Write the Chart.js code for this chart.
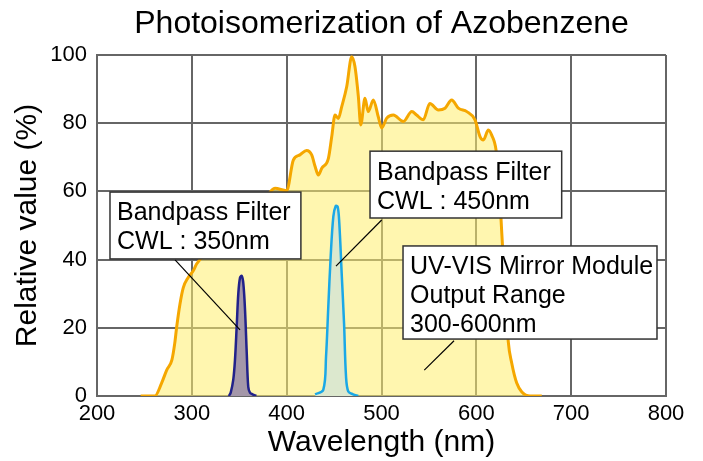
<!DOCTYPE html>
<html>
<head>
<meta charset="utf-8">
<script src="https://cdn.jsdelivr.net/npm/chart.js@4.4.1/dist/chart.umd.min.js"></script>
<style>
  html, body { margin: 0; padding: 0; background: #ffffff; }
  #wrap { width: 703px; height: 461px; position: relative; }
</style>
</head>
<body>
<div id="wrap"><canvas id="c" width="703" height="461"></canvas></div>
<script>
// ---- Data ----
const titleText = 'Photoisomerization of Azobenzene';
const xAxisTitle = 'Wavelength (nm)';
const yAxisTitle = 'Relative value (%)';
const xTicks = [200, 300, 400, 500, 600, 700, 800];
const yTicks = [0, 20, 40, 60, 80, 100];

// UV-VIS mirror module output spectrum
const mirrorNm  = [246, 261, 268, 273.5, 279, 282, 284, 287.5, 291, 296, 301.5, 305, 320, 340, 360, 375, 387.7, 400, 407, 414, 421, 426.4, 430, 433.4, 437, 444, 447.5, 451, 454.5, 458, 463.3, 468.6, 472, 475.6, 478.1, 482.6, 486, 491.4, 496.6, 500.2, 505.5, 512.5, 523, 532, 537, 544, 551, 560, 567, 574, 581, 590, 598.6, 604, 607.4, 612.7, 616.2, 620.8, 624, 627, 633.7, 637.3, 642.6, 648, 656.6, 669];
const mirrorVal = [0, 0, 3.7, 7.6, 10.6, 15.5, 20.2, 27, 31.8, 34.7, 36.7, 38.7, 43, 48, 53, 57, 60.9, 60.2, 69.2, 70.7, 72, 70.7, 67.3, 64.8, 66.8, 69.7, 76, 82.4, 81.4, 84.8, 90.7, 99.5, 96.6, 87.8, 79.5, 87.3, 83.4, 86.8, 81.9, 78.6, 81.5, 82.4, 80.5, 83.4, 82.4, 81, 85.8, 83.9, 84.4, 86.8, 84.4, 83.4, 81, 76, 75.1, 78, 76.5, 72.1, 62, 47, 15.9, 9.7, 3.8, 1.2, 0, 0];

// Bandpass filter, CWL 350 nm
const f350Nm  = [339, 341, 343.7, 345.5, 347.3, 349, 350.8, 352.6, 354.3, 356.1, 357.9, 359.5, 361.3, 364, 368];
const f350Val = [0, 1, 4.8, 10.6, 20.4, 30, 34.7, 35.2, 33, 25.2, 12.6, 2.7, 1, 0.5, 0];

// Bandpass filter, CWL 450 nm
const f450Nm  = [430, 438.6, 441.5, 443.9, 446.4, 449.2, 451.7, 453.8, 455.5, 458, 460.5, 462.6, 465, 470, 475.5];
const f450Val = [0.5, 1.8, 11.5, 26.2, 40.9, 52.6, 55.7, 55.5, 50.7, 36, 21.4, 5.7, 1.3, 0.5, 0];

// Callout labels (text) and their anchor points in data units
const callouts = [
  { lines: ['Bandpass Filter', 'CWL : 350nm'], box: [213.7, 415, 59.8, 40.2], from: [282.3, 39.9], to: [350.8, 19.4] },
  { lines: ['Bandpass Filter', 'CWL : 450nm'], box: [487.9, 690, 71.8, 52.2], from: [500.2, 51.6], to: [452, 38.1] },
  { lines: ['UV-VIS Mirror Module', 'Output Range', '300-600nm'], box: [522.7, 790.5, 44, 16.7], from: [576.5, 16.2], to: [545.1, 7.6] }
];

const toXY = (xs, ys) => xs.map((x, i) => ({ x: x, y: ys[i] }));

const FONT = '"Liberation Sans", Arial, Helvetica, sans-serif';
const GRID = '#666666';

const calloutPlugin = {
  id: 'callouts',
  afterDatasetsDraw(chart) {
    const ctx = chart.ctx;
    const xs = chart.scales.x, ys = chart.scales.y;
    ctx.save();
    callouts.forEach(c => {
      ctx.beginPath();
      ctx.strokeStyle = '#000';
      ctx.lineWidth = 1.2;
      ctx.moveTo(xs.getPixelForValue(c.from[0]), ys.getPixelForValue(c.from[1]));
      ctx.lineTo(xs.getPixelForValue(c.to[0]), ys.getPixelForValue(c.to[1]));
      ctx.stroke();
      const l = xs.getPixelForValue(c.box[0]), r = xs.getPixelForValue(c.box[1]);
      const t = ys.getPixelForValue(c.box[2]), b = ys.getPixelForValue(c.box[3]);
      ctx.fillStyle = '#ffffff';
      ctx.fillRect(l, t, r - l, b - t);
      ctx.strokeStyle = '#333333';
      ctx.lineWidth = 1.5;
      ctx.strokeRect(l, t, r - l, b - t);
      ctx.fillStyle = '#000';
      ctx.font = '25px ' + FONT;
      ctx.textBaseline = 'middle';
      ctx.textAlign = 'left';
      c.lines.forEach((s, i) => ctx.fillText(s, l + 7, t + 21.5 + i * 29));
    });
    ctx.restore();
  }
};

// Title centred over the plot area
const titlePlugin = {
  id: 'plotTitle',
  afterDraw(chart) {
    const ctx = chart.ctx;
    const a = chart.chartArea;
    ctx.save();
    ctx.fillStyle = '#000';
    ctx.font = '32px ' + FONT;
    ctx.textAlign = 'center';
    ctx.textBaseline = 'middle';
    ctx.fillText(titleText, (a.left + a.right) / 2, 24);
    ctx.restore();
  }
};

new Chart(document.getElementById('c'), {
  type: 'scatter',
  data: {
    datasets: [
      {
        label: 'Bandpass Filter CWL 350nm',
        data: toXY(f350Nm, f350Val),
        showLine: true,
        borderColor: '#22228a',
        backgroundColor: '#a497a9',
        borderWidth: 2.5,
        fill: 'origin',
        pointRadius: 0,
        tension: 0.35,
        order: 1
      },
      {
        label: 'Bandpass Filter CWL 450nm',
        data: toXY(f450Nm, f450Val),
        showLine: true,
        borderColor: '#1ba8e6',
        backgroundColor: '#dce8ce',
        borderWidth: 2.5,
        fill: 'origin',
        pointRadius: 0,
        tension: 0.35,
        order: 2
      },
      {
        label: 'UV-VIS Mirror Module Output Range',
        data: toXY(mirrorNm, mirrorVal),
        showLine: true,
        borderColor: '#f5a700',
        backgroundColor: 'rgba(255,238,110,0.55)',
        borderWidth: 3,
        fill: 'origin',
        pointRadius: 0,
        cubicInterpolationMode: 'monotone',
        order: 3
      }
    ]
  },
  options: {
    responsive: false,
    animation: false,
    devicePixelRatio: 1,
    layout: { padding: { left: 0, right: 37, top: 55, bottom: 0 } },
    plugins: {
      legend: { display: false },
      tooltip: { enabled: false },
      title: { display: false }
    },
    scales: {
      x: {
        type: 'linear',
        min: 200, max: 800,
        afterBuildTicks(scale) { scale.ticks = xTicks.map(v => ({ value: v })); },
        afterFit(scale) { scale.height = 65; },
        grid: { color: GRID, lineWidth: 2, drawTicks: false },
        border: { color: GRID, width: 2 },
        ticks: { color: '#000', font: { family: FONT, size: 22 }, padding: 5, maxRotation: 0 },
        title: {
          display: true, text: xAxisTitle, color: '#000',
          font: { family: FONT, size: 30, lineHeight: 1.2 },
          padding: { top: 0, bottom: 0 }
        }
      },
      y: {
        type: 'linear',
        min: 0, max: 100,
        afterBuildTicks(scale) { scale.ticks = yTicks.map(v => ({ value: v })); },
        afterFit(scale) { scale.width = 97; },
        grid: { color: GRID, lineWidth: 2, drawTicks: false },
        border: { color: GRID, width: 2 },
        ticks: { color: '#000', font: { family: FONT, size: 22 }, padding: 10 },
        title: {
          display: true, text: yAxisTitle, color: '#000',
          font: { family: FONT, size: 30, lineHeight: 1.2 },
          padding: { top: 10, bottom: 0 }
        }
      }
    }
  },
  plugins: [calloutPlugin, titlePlugin]
});
</script>
</body>
</html>
